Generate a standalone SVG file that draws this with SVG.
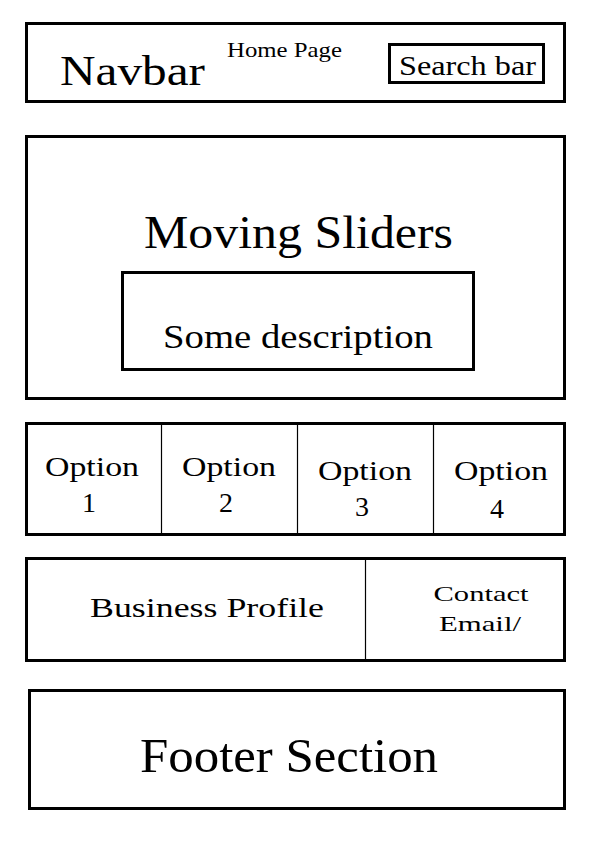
<svg xmlns="http://www.w3.org/2000/svg" width="595" height="842" viewBox="0 0 595 842">
<style>
.box{fill:#fff;stroke:#000;stroke-width:3}
.div{stroke:#000;stroke-width:1.2}
text{font-family:"Liberation Serif","DejaVu Serif",serif;fill:#000}
.c{text-anchor:middle}
</style>
<rect width="595" height="842" fill="#fff"/>
<g id="navbar">
<rect class="box" x="26.5" y="23.5" width="538" height="78"/>
<text x="60" y="85" font-size="42" textLength="145" lengthAdjust="spacingAndGlyphs">Navbar</text>
<text x="227" y="57" font-size="21" textLength="115" lengthAdjust="spacingAndGlyphs">Home Page</text>
</g>
<g id="search">
<rect class="box" x="389.5" y="44.5" width="154" height="38"/>
<text x="399" y="75" font-size="27" textLength="137" lengthAdjust="spacingAndGlyphs">Search bar</text>
</g>
<g id="slider">
<rect class="box" x="26.5" y="136.5" width="538" height="262"/>
<text x="144" y="248" font-size="46" textLength="309" lengthAdjust="spacingAndGlyphs">Moving Sliders</text>
</g>
<g id="description">
<rect class="box" x="122.5" y="272.5" width="351" height="97"/>
<text x="163" y="348" font-size="33" textLength="270" lengthAdjust="spacingAndGlyphs">Some description</text>
</g>
<g id="options">
<rect class="box" x="26.5" y="423.5" width="538" height="111"/>
<line class="div" x1="161.5" y1="424" x2="161.5" y2="534"/>
<line class="div" x1="297.5" y1="424" x2="297.5" y2="534"/>
<line class="div" x1="433.5" y1="424" x2="433.5" y2="534"/>
<text class="c" x="92" y="476" font-size="28" textLength="94" lengthAdjust="spacingAndGlyphs">Option</text>
<text class="c" x="89" y="512" font-size="28">1</text>
<text class="c" x="229" y="476" font-size="28" textLength="94" lengthAdjust="spacingAndGlyphs">Option</text>
<text class="c" x="226" y="512" font-size="28">2</text>
<text class="c" x="365" y="480" font-size="28" textLength="94" lengthAdjust="spacingAndGlyphs">Option</text>
<text class="c" x="362" y="516" font-size="28">3</text>
<text class="c" x="501" y="480" font-size="28" textLength="94" lengthAdjust="spacingAndGlyphs">Option</text>
<text class="c" x="497" y="518" font-size="28">4</text>
</g>
<g id="business">
<rect class="box" x="26.5" y="558.5" width="538" height="102"/>
<line class="div" x1="365.5" y1="559" x2="365.5" y2="660"/>
<text x="90" y="617" font-size="27" textLength="234" lengthAdjust="spacingAndGlyphs">Business Profile</text>
<text class="c" x="481" y="601" font-size="22" textLength="95" lengthAdjust="spacingAndGlyphs">Contact</text>
<text class="c" x="480" y="631" font-size="22" textLength="82" lengthAdjust="spacingAndGlyphs">Email/</text>
</g>
<g id="footer">
<rect class="box" x="29.5" y="690.5" width="535" height="118"/>
<text x="140" y="772" font-size="49" textLength="298" lengthAdjust="spacingAndGlyphs">Footer Section</text>
</g>
<g id="connectors"></g>
</svg>
